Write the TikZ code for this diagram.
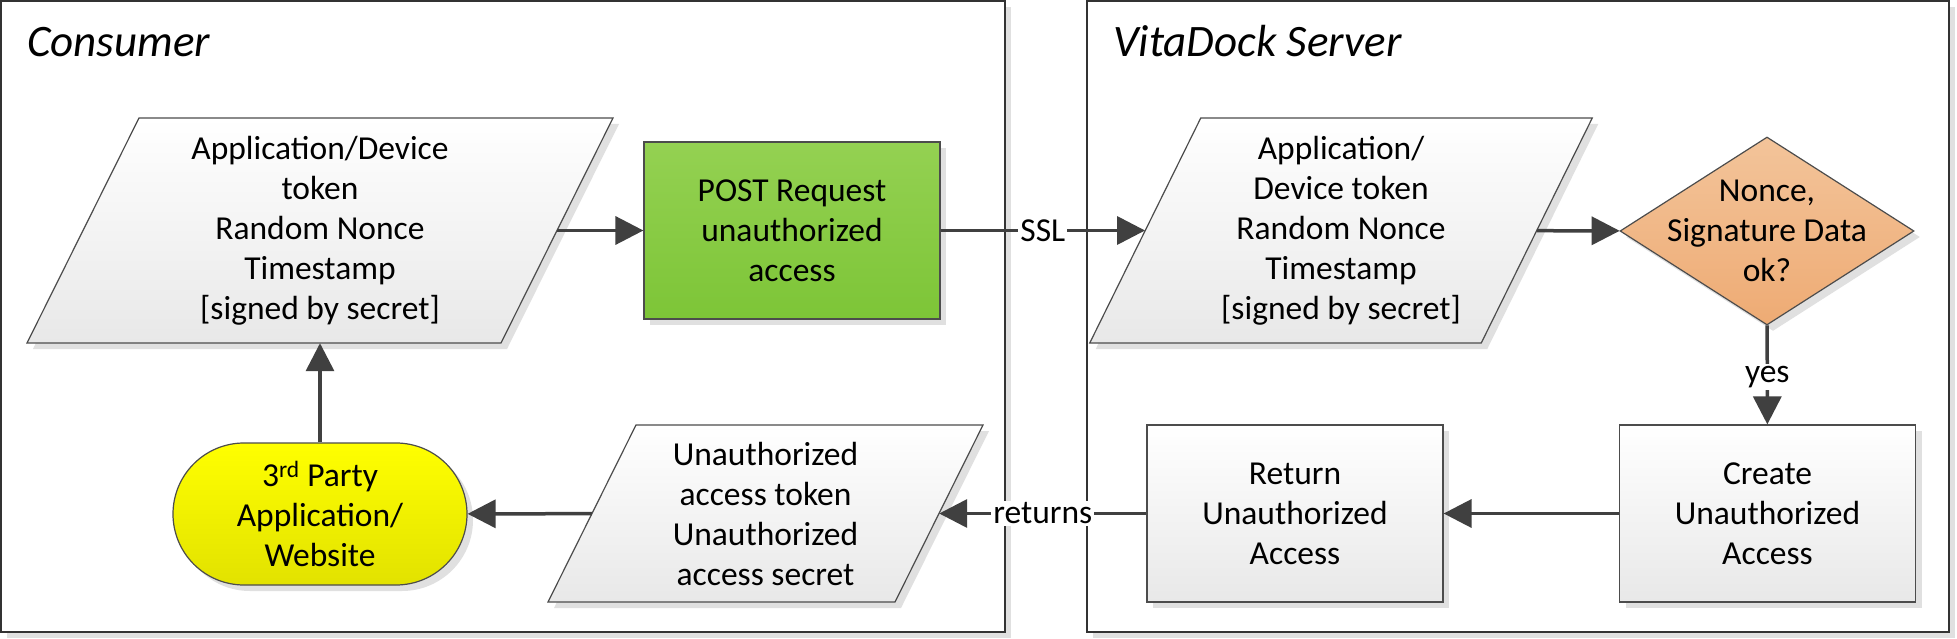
\documentclass[tikz,border=0pt]{standalone}
\usepackage{fontspec}
\setmainfont{Carlito}
\usetikzlibrary{shapes.geometric,shadows,arrows.meta}
\definecolor{arr}{HTML}{404040}
\definecolor{grnT}{HTML}{94D152}
\definecolor{grnB}{HTML}{7DC537}
\definecolor{ylwT}{HTML}{FFFF00}
\definecolor{ylwB}{HTML}{E2E200}
\definecolor{orgT}{HTML}{F3C49A}
\definecolor{orgB}{HTML}{EEAB74}
% parallelogram outline: centre x, centre y, midline width, height, slant
\newcommand\paraoutline[5]{%
  \path[pshape] (#1-#3/2+#5/2, #2-#4/2) -- (#1+#3/2+#5/2, #2-#4/2)
    -- (#1+#3/2-#5/2, #2+#4/2) -- (#1-#3/2-#5/2, #2+#4/2) -- cycle;}
\begin{document}
\begin{tikzpicture}[x=1pt,y=-1pt,
  every node/.style={font=\fontsize{33.5}{40}\selectfont, align=center, text=black},
  shp/.style={draw=black!70, line width=1.2pt, inner sep=0pt,
    drop shadow={shadow xshift=6pt,shadow yshift=-6pt,fill=black!12,opacity=1}},
  grayfill/.style={top color=white, bottom color=black!9},
  pshape/.style={shp, grayfill},
  paranode/.style={rectangle, inner sep=0pt},
  boxed/.style={shp, rectangle, minimum width=296pt, minimum height=177pt},
  conn/.style={draw=arr, line width=3.5pt, -{Triangle[length=28pt,width=28pt]}},
  lbl/.style={fill=white, inner sep=2pt},
  title/.style={font=\fontsize{45}{54}\selectfont\itshape, anchor=base west, inner sep=0pt},
  container/.style={draw=black!80, line width=1.2pt, fill=white,
    drop shadow={shadow xshift=6pt,shadow yshift=-6pt,fill=black!12,opacity=1}}
]
\useasboundingbox (0,0) rectangle (1957,639);
% containers
\path[container] (1,1) rectangle (1005,632);
\path[container] (1087,1) rectangle (1949,632);
\node[title] (tcons) at (27,57) {Consumer};
\node[title] (tserv) at (1113,57) {VitaDock Server};
% parallelogram outlines
\paraoutline{320}{230.5}{474}{225}{112}
\paraoutline{765.5}{513.5}{347}{177}{88}
\paraoutline{1341}{230.5}{391.5}{225}{111}
% consumer nodes
\node[paranode, minimum width=474pt, minimum height=225pt] (cpara) at (320,230.5)
  {Application/Device\\token\\Random Nonce\\Timestamp\\{[}signed by secret{]}};
\node[boxed, top color=grnT, bottom color=grnB] (post) at (792,230.5)
  {POST Request\\unauthorized\\access};
\node[shp, rectangle, rounded corners=71pt, minimum width=294pt, minimum height=142pt,
  top color=ylwT, bottom color=ylwB] (third) at (320,514)
  {3\textsuperscript{rd} Party\\Application/\\Website};
\node[paranode, minimum width=347pt, minimum height=177pt] (upara) at (765.5,513.5)
  {Unauthorized\\access token\\Unauthorized\\access secret};
% server nodes
\node[paranode, minimum width=391.5pt, minimum height=225pt] (spara) at (1341,230.5)
  {Application/\\Device token\\Random Nonce\\Timestamp\\{[}signed by secret{]}};
\node[shp, diamond, aspect=1.56, minimum width=294pt, minimum height=188pt,
  top color=orgT, bottom color=orgB] (dia) at (1767,231) {};
\node (diatext) at (dia.center) {Nonce,\\Signature Data\\ok?};
\node[boxed, grayfill] (create) at (1767.5,513.5) {Create\\Unauthorized\\Access};
\node[boxed, grayfill] (ret) at (1295,513.5) {Return\\Unauthorized\\Access};
% connectors
\draw[conn] (cpara) -- (post);
\draw[conn] (post) -- node[lbl] (ssl) {SSL} (spara);
\draw[conn] (spara) -- (dia);
\draw[conn] (dia) -- node[lbl, pos=0.52] (yes) {yes} (create);
\draw[conn] (create) -- (ret);
\draw[conn] (ret) -- node[lbl] (rets) {returns} (upara);
\draw[conn] (upara) -- (third);
\draw[conn] (third) -- (cpara);
\end{tikzpicture}
\end{document}
